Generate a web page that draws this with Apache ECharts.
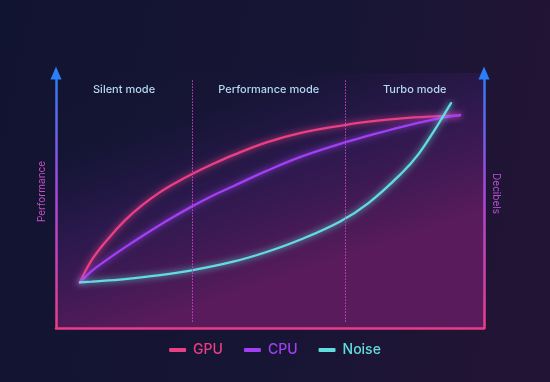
<!DOCTYPE html>
<html>
<head>
<meta charset="utf-8">
<script src="https://cdn.jsdelivr.net/npm/echarts@6/dist/echarts.min.js"></script>
<style>
html,body{margin:0;padding:0;background:#141632;}
#chart{width:550px;height:382px;}
</style>
</head>
<body>
<div id="chart"></div>
<script>
// ---- data ----
const seriesNames = ['GPU', 'CPU', 'Noise'];
const modeNames = ['Silent mode', 'Performance mode', 'Turbo mode'];
const modeBounds = [0, 31.8, 67.6, 100];
const load = [5.6, 8.3, 12.2, 16.1, 20.0, 23.9, 27.8, 31.7, 36.0, 41.4, 49.2, 57.0, 66.4, 73.0, 80.8, 88.6, 94.4];
const gpu  = [17.8, 26.5, 35.0, 42.2, 48.0, 52.8, 56.8, 60.3, 63.8, 67.8, 72.8, 76.4, 79.3, 80.9, 82.2, 83.0, 83.4];
const cpu  = [17.8, 22.3, 27.1, 31.6, 35.9, 40.0, 43.9, 47.6, 51.4, 55.6, 61.6, 67.0, 72.2, 75.4, 78.9, 81.9, 83.6];
const noiseLoad = [5.6, 8.3, 16.1, 23.9, 31.7, 41.4, 49.2, 57.0, 66.4, 73.0, 80.8, 84.7, 88.6, 90.5, 92.3];
const noise     = [17.9, 18.2, 19.2, 20.6, 22.6, 26.0, 29.8, 34.6, 41.8, 49.0, 60.8, 68.2, 78.0, 83.2, 88.2];
const axisNames = ['Performance', 'Decibels'];

const colors = ['#ea3f84', '#a23ff2', '#62dcdc'];
const pair = (xs, ys) => xs.map((x, i) => [x, ys[i]]);

const chart = echarts.init(document.getElementById('chart'));
const FONT = 'Inter';

const axisGrad = new echarts.graphic.LinearGradient(0, 73, 0, 328, [
  {offset: 0, color: '#2b7ef7'},
  {offset: 0.45, color: '#a548dc'},
  {offset: 1, color: '#ea3f88'}
], true);

function yAxisCfg(pos, name, rotate, gap, pad) {
  return {
    type: 'value', position: pos, min: 0, max: 100,
    name: name, nameLocation: 'middle', nameGap: gap, nameRotate: rotate,
    nameTextStyle: {color: pos === 'left' ? '#c650c8' : '#b552cc', fontSize: 10, fontFamily: FONT, padding: pad},
    axisLine: {show: true, symbol: ['none', 'triangle'], symbolSize: [11, 13],
      lineStyle: {color: axisGrad, width: 2.5}},
    axisTick: {show: false}, axisLabel: {show: false}, splitLine: {show: false}
  };
}

const lineSeries = (name, data, color, extra) => Object.assign({
  name: name, type: 'line', data: data, smooth: 0.4, showSymbol: false,
  lineStyle: {color: color, width: 2.3, shadowBlur: 6, shadowColor: color, cap: 'round'},
  itemStyle: {color: color}, silent: true, z: 3
}, extra || {});

const markAreaData = modeNames.map((n, i) => [
  {name: n, xAxis: modeBounds[i], yAxis: 97.6},
  {xAxis: modeBounds[i + 1], yAxis: 2.4}
]);
const markLineData = modeBounds.slice(1, 3).map(x => [{coord: [x, 2.4]}, {coord: [x, 97.6]}]);

chart.setOption({
  backgroundColor: new echarts.graphic.LinearGradient(0, 0, 1, 0.3, [
    {offset: 0, color: '#111430'},
    {offset: 0.6, color: '#171534'},
    {offset: 1, color: '#221435'}
  ]),
  animation: false,
  grid: {left: 56, right: 66, top: 73, bottom: 54, show: true, borderWidth: 0,
    backgroundColor: new echarts.graphic.LinearGradient(0, 0, 0.2, 1, [
      {offset: 0, color: 'rgba(40,26,84,0)'},
      {offset: 0.3, color: 'rgba(40,26,84,0.06)'},
      {offset: 0.6, color: 'rgba(52,26,86,0.75)'},
      {offset: 1, color: '#5a1b5c'}
    ])},
  xAxis: {type: 'value', min: 0, max: 100,
    axisLine: {show: true, onZero: false, lineStyle: {color: '#e83c86', width: 2.5}},
    axisTick: {show: false}, axisLabel: {show: false}, splitLine: {show: false}},
  yAxis: [yAxisCfg('left', axisNames[0], 90, 9, [0, 0, 0, 18]),
          yAxisCfg('right', axisNames[1], -90, 7, [0, 14, 0, 0])],
  legend: {
    left: 'center', top: 338, icon: 'roundRect', itemWidth: 17, itemHeight: 4, itemGap: 21,
    data: seriesNames.map((n, i) => ({name: n, textStyle: {color: colors[i]}})),
    textStyle: {fontSize: 14, fontFamily: FONT, fontWeight: 500, padding: [0, 0, 0, 2]}
  },
  series: [
    lineSeries(seriesNames[0], pair(load, gpu), colors[0], {
      markLine: {silent: true, symbol: 'none', label: {show: false},
        lineStyle: {type: [1.5, 1.5], color: '#d43fc8', width: 1, shadowBlur: 0},
        data: markLineData},
      markArea: {silent: true, itemStyle: {color: 'rgba(0,0,0,0)'},
        label: {show: true, position: 'insideTop', distance: 5, color: '#b2d8f2',
          fontSize: 11, fontFamily: FONT, fontWeight: 500},
        data: markAreaData}
    }),
    lineSeries(seriesNames[1], pair(load, cpu), colors[1]),
    lineSeries(seriesNames[2], pair(noiseLoad, noise), colors[2])
  ]
});
</script>
</body>
</html>
